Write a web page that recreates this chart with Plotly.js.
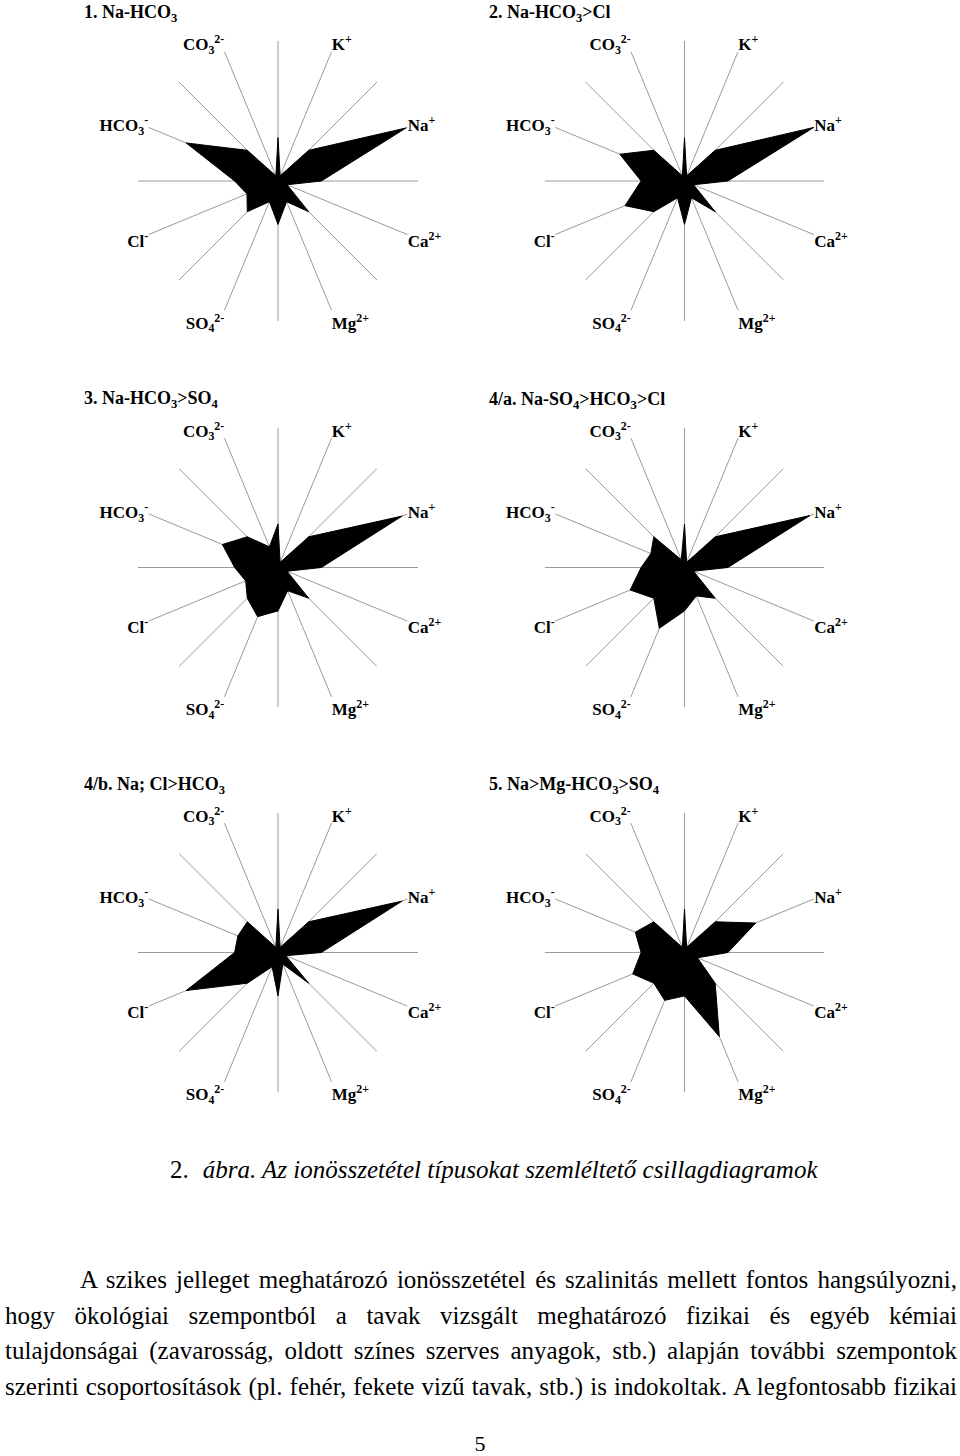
<!DOCTYPE html>
<html><head><meta charset="utf-8">
<script src="https://cdn.plot.ly/plotly-3.0.1.min.js"></script>
<style>
body{margin:0;background:#fff;width:960px;height:1456px;position:relative;overflow:hidden;font-family:"Liberation Serif","Times New Roman",serif;color:#000;}
#chart{position:absolute;left:0;top:0;width:960px;height:1140px;}
#caption{position:absolute;left:170px;top:1155px;font-size:25px;line-height:30px;white-space:nowrap;}
#caption i{margin-left:14px;}
#body{position:absolute;left:5px;top:1262px;width:952px;font-size:25px;line-height:35.7px;}
#body div{text-align:justify;text-align-last:justify;}
#body div.first{padding-left:75px;}
#page{position:absolute;left:0;width:960px;top:1432px;text-align:center;font-size:22px;line-height:24px;}
</style></head><body>
<div id="chart"></div>
<div id="caption">2.<i>ábra. Az ionösszetétel típusokat szemléltető csillagdiagramok</i></div>
<div id="body">
<div class="first">A szikes jelleget meghatározó ionösszetétel és szalinitás mellett fontos hangsúlyozni,</div>
<div>hogy ökológiai szempontból a tavak vizsgált meghatározó fizikai és egyéb kémiai</div>
<div>tulajdonságai (zavarosság, oldott színes szerves anyagok, stb.) alapján további szempontok</div>
<div>szerinti csoportosítások (pl. fehér, fekete vizű tavak, stb.) is indokoltak. A legfontosabb fizikai</div>
</div>
<div id="page">5</div>
<script>
// ---- data (Maucha star diagrams; ion tip radius, spoke length = 100) ----
const ions = ['Na', 'K', 'CO3', 'HCO3', 'Cl', 'SO4', 'Mg', 'Ca'];
const ionLabels = ['Na<sup>+</sup>', 'K<sup>+</sup>', 'CO<sub>3</sub><sup>2-</sup>', 'HCO<sub>3</sub><sup>-</sup>',
                   'Cl<sup>-</sup>', 'SO<sub>4</sub><sup>2-</sup>', 'Mg<sup>2+</sup>', 'Ca<sup>2+</sup>'];
const diagramTitles = ['1. Na-HCO<sub>3</sub>', '2. Na-HCO<sub>3</sub>&gt;Cl', '3. Na-HCO<sub>3</sub>&gt;SO<sub>4</sub>',
                       '4/a. Na-SO<sub>4</sub>&gt;HCO<sub>3</sub>&gt;Cl', '4/b. Na; Cl&gt;HCO<sub>3</sub>',
                       '5. Na&gt;Mg-HCO<sub>3</sub>&gt;SO<sub>4</sub>'];
const type1  = [99, 4, 4, 71, 24, 16, 16, 7];
const type2  = [100, 4, 4, 50, 46, 13, 13, 7];
const type3  = [96, 4, 16, 43, 25, 38, 18, 7];
const type4a = [97, 4, 6, 26, 42, 47, 22, 7];
const type4b = [96, 4, 4, 31, 71, 11, 9, 6];
const type5  = [55, 4, 4, 38, 40, 37, 65, 10];
const baseRadius = 31;   // Maucha base circle
const spokeLength = 100;

// ---- layout geometry ----
const W = 960, H = 1140, R = 140;
const centers = [[278, 181], [684.5, 181], [278, 567.5], [684.5, 567.5], [278, 952.5], [684.5, 952.5]];
const titlePos = [[82, 13], [487, 13], [82, 399], [487, 400], [82, 785], [487, 785]];
const series = [type1, type2, type3, type4a, type4b, type5];
const ionAngles = ions.map((_, i) => 22.5 + i * 45);

const traces = [], layout = {
  width: W, height: H, margin: {l: 0, r: 0, t: 0, b: 0},
  paper_bgcolor: '#fff', showlegend: false, annotations: []
};

series.forEach((vals, d) => {
  const pid = d === 0 ? 'polar' : 'polar' + (d + 1);
  // sector boundary guide lines (between the ion spokes)
  const gr = [], gt = [];
  ions.forEach((ion, i) => { gr.push(0, spokeLength, null); gt.push(i * 45, i * 45, null); });
  traces.push({
    type: 'scatterpolar', subplot: pid, r: gr, theta: gt, mode: 'lines',
    line: {color: '#9a9a9a', width: 1}, hoverinfo: 'skip', showlegend: false
  });
  // Maucha polygon
  const theta = [], r = [];
  ions.forEach((ion, i) => {
    theta.push(i * 45); r.push(baseRadius);
    theta.push(ionAngles[i]); r.push(vals[i]);
  });
  theta.push(0); r.push(baseRadius);
  traces.push({
    type: 'scatterpolar', subplot: pid, r: r, theta: theta, mode: 'lines',
    fill: 'toself', fillcolor: '#000', line: {color: '#000', width: 1},
    hoverinfo: 'skip', showlegend: false
  });
  const [cx, cy] = centers[d];
  layout[pid] = {
    domain: {x: [(cx - R) / W, (cx + R) / W], y: [1 - (cy + R) / H, 1 - (cy - R) / H]},
    bgcolor: '#fff',
    radialaxis: {visible: false, range: [0, spokeLength]},
    angularaxis: {
      direction: 'counterclockwise', rotation: 0, tickmode: 'array',
      tickvals: ionAngles, ticktext: ionLabels, ticks: '', showline: false,
      showgrid: true, gridcolor: '#9a9a9a', gridwidth: 1,
      tickfont: {family: 'Liberation Serif', size: 17, color: '#000', weight: 'bold'}
    }
  };
  layout.annotations.push({
    xref: 'paper', yref: 'paper', x: titlePos[d][0] / W, y: 1 - titlePos[d][1] / H,
    xanchor: 'left', yanchor: 'middle', showarrow: false, text: diagramTitles[d],
    font: {family: 'Liberation Serif', size: 18, color: '#000', weight: 'bold'}
  });
});

Plotly.newPlot('chart', traces, layout, {staticPlot: true, displayModeBar: false});
</script>
</body></html>
